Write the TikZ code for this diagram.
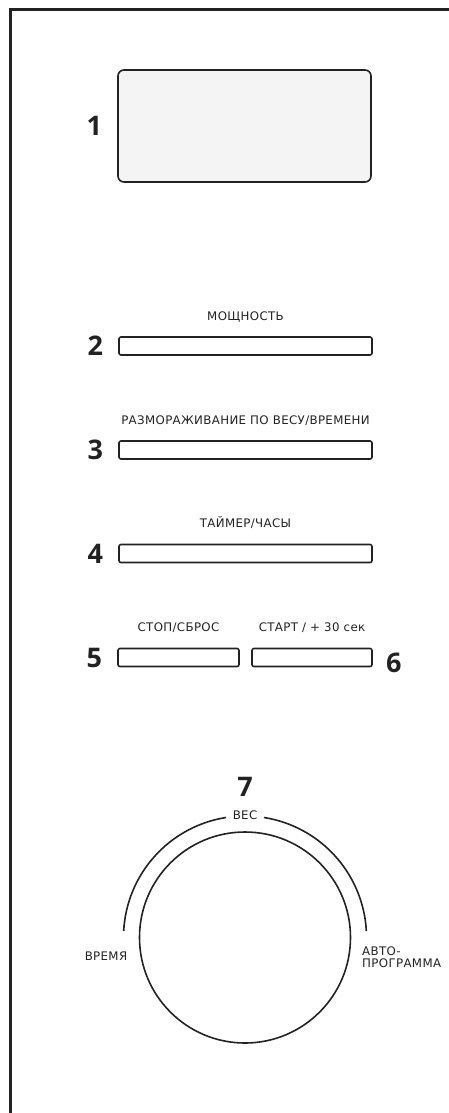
\documentclass[tikz,border=0pt]{standalone}
\usepackage{fontspec}
\setmainfont{DejaVu Sans}[LetterSpace=3]
\newfontfamily\numfont{Open Sans}
\usetikzlibrary{positioning}
\definecolor{ink}{HTML}{222222}
\definecolor{pale}{HTML}{F4F4F4}

\begin{document}
\begin{tikzpicture}[x=1pt,y=-1pt,
 btn/.style={draw=ink,line width=1.6pt,rounded corners=2pt,minimum height=18pt,inner sep=0pt},
 lbl/.style={font=\fontsize{11.8}{12.3}\selectfont,text=ink,inner sep=0pt,text depth=0pt},
 num/.style={font=\numfont\bfseries\fontsize{27}{28}\selectfont,text=ink,inner sep=0pt,text depth=0pt}]
\useasboundingbox (0,0) rectangle (449,1113);
\draw[ink,line width=3pt] (449,10) -- (10,10) -- (10,1113);
% display
\node[draw=ink,fill=pale,line width=1.6pt,rounded corners=6pt,minimum width=253pt,minimum height=112pt] (disp) at (244.5,126) {};
\node[num,left=15pt of disp] (n1) {1};
% buttons
\node[btn,minimum width=253pt] (b2) at (245.5,346) {};
\node[btn,minimum width=253pt] (b3) at (245.5,450) {};
\node[btn,minimum width=253pt] (b4) at (245.5,553.5) {};
\node[btn,minimum width=121pt] (b5) at (178.5,657.5) {};
\node[btn,minimum width=120pt] (b6) at (312,657.5) {};
\node[lbl,above=16pt of b2] (t2) {МОЩНОСТЬ};
\node[lbl,above=16pt of b3] (t3) {РАЗМОРАЖИВАНИЕ ПО ВЕСУ/ВРЕМЕНИ};
\node[lbl,above=16pt of b4] (t4) {ТАЙМЕР/ЧАСЫ};
\node[lbl,above=16pt of b5] (t5) {СТОП/СБРОС};
\node[lbl,above=16pt of b6] (t6) {СТАРТ / + 30 сек};
\node[num,left=15pt of b2] (n2) {2};
\node[num,left=15pt of b3] (n3) {3};
\node[num,left=15pt of b4] (n4) {4};
\node[num,left=15pt of b5] (n5) {5};
\node[num,right=13pt of b6,yshift=-5pt] (n6) {6};
% dial
\node[circle,draw=ink,line width=1.6pt,minimum size=211pt,inner sep=0pt] (dial) at (245,937.5) {};
\draw[ink,line width=1.6pt] (dial.center) ++(-3:121.5) arc[start angle=-3,end angle=-81,radius=121.5];
\draw[ink,line width=1.6pt] (dial.center) ++(-99:121.5) arc[start angle=-99,end angle=-177,radius=121.5];
\node[lbl,above=12pt of dial] (ves) {ВЕС};
\node[num,above=13pt of ves] (n7) {7};
\node[lbl] (vremya) at (106,956) {ВРЕМЯ};
\node[lbl,align=left,anchor=west] (avto) at (362,957) {АВТО-\\ПРОГРАММА};
\end{tikzpicture}
\end{document}
